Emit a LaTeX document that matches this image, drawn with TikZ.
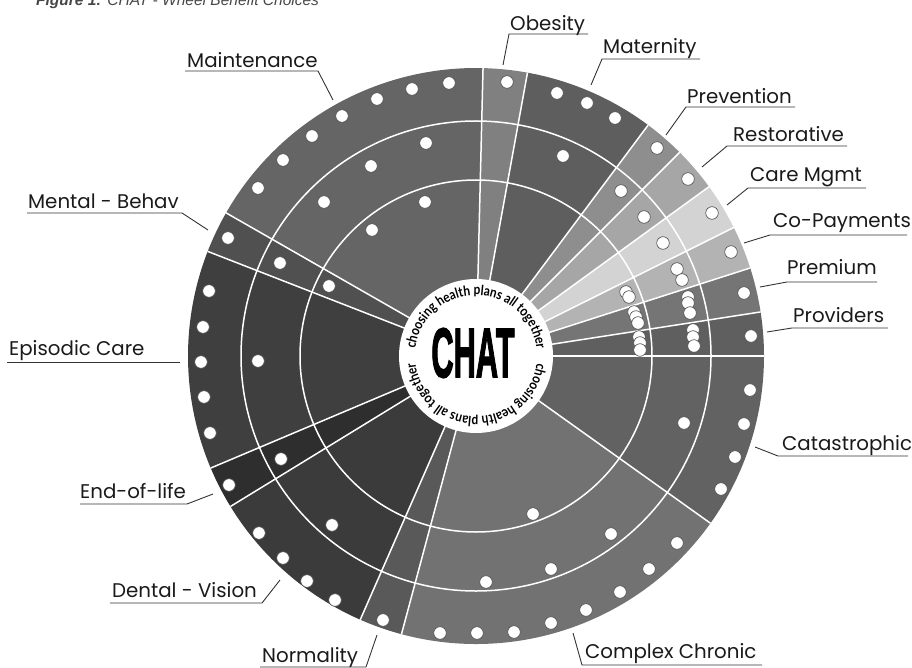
\documentclass[tikz,border=0pt]{standalone}
\usepackage{fontspec}
\setmainfont{Poppins}
\newfontfamily\capfont{Liberation Sans}
\newfontfamily\arcfont[FakeStretch=0.85]{Lato}
\newfontfamily\chatfont[BoldFeatures={FakeBold=2.5}]{Liberation Sans}
\usetikzlibrary{decorations.text}
\definecolor{cMaint}{HTML}{656565}
\definecolor{cObes}{HTML}{808080}
\definecolor{cMat}{HTML}{5E5E5E}
\definecolor{cPrev}{HTML}{8E8E8E}
\definecolor{cRest}{HTML}{A6A6A6}
\definecolor{cCare}{HTML}{D3D3D3}
\definecolor{cCoPay}{HTML}{B3B3B3}
\definecolor{cPrem}{HTML}{757575}
\definecolor{cProv}{HTML}{5F5F5F}
\definecolor{cCata}{HTML}{626262}
\definecolor{cComp}{HTML}{727272}
\definecolor{cNorm}{HTML}{595959}
\definecolor{cDent}{HTML}{3B3B3B}
\definecolor{cEnd}{HTML}{2E2E2E}
\definecolor{cEpis}{HTML}{3F3F3F}
\definecolor{cMent}{HTML}{505050}
\definecolor{inkc}{HTML}{1A1A1A}
\newcommand\wedgefill[3]{\fill[#3] (0,0) -- (#1:288) arc[start angle=#1, end angle=#2, radius=288] -- cycle;}
\tikzset{
  sep/.style={white, line width=1.5pt},
  dot/.style={fill=white, draw=black!70, line width=0.6pt},
  lab/.style={anchor=base west, inner sep=0pt, text=inkc, font=\fontsize{19.8}{23}\selectfont},
  leader/.style={draw=black!80, line width=0.9pt},
  arctext/.style={decorate, decoration={text along path, text align=center,
     text={|\arcfont\bfseries\fontsize{14}{14}\selectfont|choosing health plans all together}}}
}
\begin{document}
\begin{tikzpicture}[x=1pt,y=1pt]
\useasboundingbox (0,0) rectangle (912,-668);
% caption (cut at top edge)
\node[anchor=base west, inner sep=0pt, text=black!72] (cap) at (36,-6)
  {\capfont\fontsize{15.5}{15.5}\selectfont\bfseries\itshape Figure 1: \mdseries CHAT - Wheel Benefit Choices};
% wheel
\begin{scope}[shift={(476,-356)}]
  \wedgefill{0}{8.8}{cProv}
  \wedgefill{8.8}{17.8}{cPrem}
  \wedgefill{17.8}{26.5}{cCoPay}
  \wedgefill{26.5}{36}{cCare}
  \wedgefill{36}{45}{cRest}
  \wedgefill{45}{53.3}{cPrev}
  \wedgefill{53.3}{79.7}{cMat}
  \wedgefill{79.7}{88.6}{cObes}
  \wedgefill{88.6}{150.2}{cMaint}
  \wedgefill{150.2}{158.7}{cMent}
  \wedgefill{158.7}{202.9}{cEpis}
  \wedgefill{202.9}{211.5}{cEnd}
  \wedgefill{211.5}{246.3}{cDent}
  \wedgefill{246.3}{255}{cNorm}
  \wedgefill{255}{324.5}{cComp}
  \wedgefill{324.5}{360}{cCata}
  \draw[sep] (0,0) circle[radius=176];
  \draw[sep] (0,0) circle[radius=235];
  \foreach \a in {0,8.8,17.8,26.5,36,45,53.3,79.7,88.6,150.2,158.7,202.9,211.5,246.3,255,324.5}
    \draw[sep] (\a:70) -- (\a:288);
  \fill[white] (0,0) circle[radius=77];
  \path[arctext] (174:61) arc[start angle=174, end angle=6, radius=61];
  \path[arctext] (-4:61) arc[start angle=-4, end angle=-176, radius=61];
\end{scope}
\node[inner sep=0pt] (chat) at (473,-353) {\scalebox{0.44}[1]{\chatfont\bfseries\fontsize{70}{70}\selectfont CHAT}};
% dots
\foreach \x/\y in {449/83,412/89,377/99,342/116,312/136,283/160,258/188,
  426/143,371/166,324/202,425/202,372/230,
  228/238,280/263,329/286,
  209/291,203/327,201/362,204/397,210/433,258/361,
  229/485,281/459,
  259/533,283/558,307/581,335/600,332/525,
  383/620,
  440/633,477/633,514/632,551/623,586/610,620/592,649/569,677/543,
  486/582,551/569,611/534,533/514,
  750/390,744/424,735/457,721/489,684/423,
  751/336,744/293,731/252,712/213,688/179,657/148,
  557/93,587/103,615/118,507/82,
  563/156,621/191,644/217,663/243,
  677/269,682/280,688/297,688/303,690/313,693/330,693/337,694/346,
  626/292,629/297,634/312,636/317,638/323,639/337,640/343,640/350}
  \draw[dot] (\x,-\y) circle[radius=6.3];
% labels
\node[lab] (lMaint) at (187,-68) {Maintenance};
\node[lab] (lObes) at (510,-31) {Obesity};
\node[lab] (lMat) at (603,-54) {Maternity};
\node[lab] (lPrev) at (687,-104) {Prevention};
\node[lab] (lRest) at (733,-142) {Restorative};
\node[lab] (lCare) at (750,-182) {Care Mgmt};
\node[lab] (lCoPay) at (773,-228) {Co-Payments};
\node[lab] (lPrem) at (787,-274) {Premium};
\node[lab] (lProv) at (793,-322) {Providers};
\node[lab] (lCata) at (782,-450) {Catastrophic};
\node[lab] (lComp) at (585,-658) {Complex Chronic};
\node[lab] (lNorm) at (262,-662) {Normality};
\node[lab] (lDent) at (112,-597) {Dental - Vision};
\node[lab] (lEnd) at (80,-498) {End-of-life};
\node[lab] (lEpis) at (9,-355) {Episodic Care};
\node[lab] (lMent) at (28,-209) {Mental - Behav};
% leader coordinates
\coordinate (mA) at (185,-71); \coordinate (mB) at (318,-71); \coordinate (mW) at (333,-100);
\coordinate (oA) at (588,-34); \coordinate (oB) at (509,-34); \coordinate (oW) at (503,-65);
\coordinate (tA) at (700,-59); \coordinate (tB) at (602,-59); \coordinate (tW) at (591,-85);
\coordinate (pA) at (795,-107); \coordinate (pB) at (686,-107); \coordinate (pW) at (666,-135);
\coordinate (rA) at (847,-146); \coordinate (rB) at (727,-146); \coordinate (rW) at (702,-167);
\coordinate (cA) at (866,-188); \coordinate (cB) at (748,-188); \coordinate (cW) at (727,-205);
\coordinate (yA) at (907,-235); \coordinate (yB) at (770,-235); \coordinate (yW) at (744,-243);
\coordinate (eA) at (877,-282); \coordinate (eB) at (787,-282); \coordinate (eW) at (760,-287);
\coordinate (vA) at (888,-328); \coordinate (vB) at (792,-328); \coordinate (vW) at (767,-332);
\coordinate (kA) at (908,-456); \coordinate (kB) at (778,-456); \coordinate (kW) at (755,-447);
\coordinate (xA) at (762,-665); \coordinate (xB) at (582,-665); \coordinate (xW) at (573,-633);
\coordinate (nA) at (260,-667); \coordinate (nB) at (366,-667); \coordinate (nW) at (377,-635);
\coordinate (dA) at (110,-603); \coordinate (dB) at (262,-603); \coordinate (dW) at (280,-580);
\coordinate (fA) at (80,-504); \coordinate (fB) at (187,-504); \coordinate (fW) at (213,-494);
\coordinate (sA) at (7,-362); \coordinate (sB) at (180,-362);
\coordinate (hA) at (27,-213); \coordinate (hB) at (182,-213); \coordinate (hW) at (208,-230);
\draw[leader] (mA) -- (mB) -- (mW);
\draw[leader] (oA) -- (oB) -- (oW);
\draw[leader] (tA) -- (tB) -- (tW);
\draw[leader] (pA) -- (pB) -- (pW);
\draw[leader] (rA) -- (rB) -- (rW);
\draw[leader] (cA) -- (cB) -- (cW);
\draw[leader] (yA) -- (yB) -- (yW);
\draw[leader] (eA) -- (eB) -- (eW);
\draw[leader] (vA) -- (vB) -- (vW);
\draw[leader] (kA) -- (kB) -- (kW);
\draw[leader] (xA) -- (xB) -- (xW);
\draw[leader] (nA) -- (nB) -- (nW);
\draw[leader] (dA) -- (dB) -- (dW);
\draw[leader] (fA) -- (fB) -- (fW);
\draw[leader] (sA) -- (sB);
\draw[leader] (hA) -- (hB) -- (hW);
\end{tikzpicture}
\end{document}
